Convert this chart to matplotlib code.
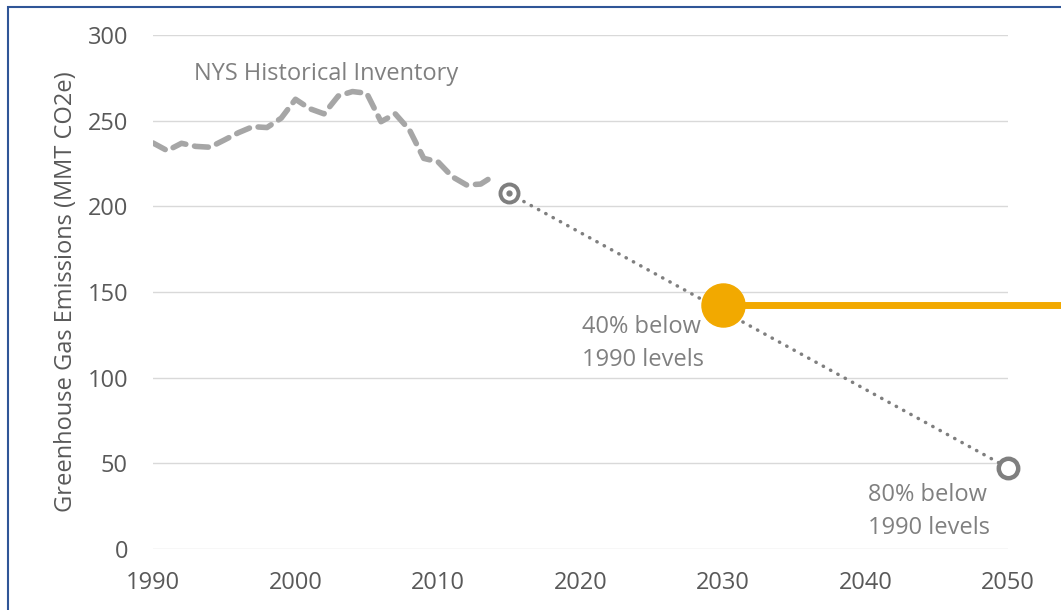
import numpy as np
import matplotlib.pyplot as plt
from matplotlib.patches import Rectangle

plt.rcParams['font.family'] = ['Open Sans', 'DejaVu Sans']

# historical inventory (MMT CO2e)
hist_years = list(range(1990, 2015))
hist_vals = [237, 232.5, 236.8, 235, 234.5, 238.7, 243, 246.5, 246, 251.5,
             262.5, 257, 254, 264.4, 267, 266, 249.4, 254, 244.6, 228,
             226, 217.3, 212.5, 213, 218.3]

# target path
target_years = [2015, 2050]
target_vals = [207.5, 47.4]
goal_year = 2030
goal_val = 142.4

fig = plt.figure(figsize=(10.61, 6.10), dpi=100)
ax = fig.add_axes([0.1442, 0.1, 0.8058, 0.8426])

grey_txt = '#595959'
ax.set_xlim(1990, 2050)
ax.set_ylim(0, 300)
ax.set_xticks(range(1990, 2051, 10))
ax.set_yticks(range(0, 301, 50))
ax.tick_params(length=0, labelsize=17, labelcolor=grey_txt)
ax.tick_params(axis='y', pad=18)
ax.tick_params(axis='x', pad=16)
for s in ax.spines.values():
    s.set_visible(False)
ax.grid(axis='y', color='#d9d9d9', lw=1)
ax.set_axisbelow(True)
ax.set_ylabel('Greenhouse Gas Emissions (MMT CO2e)', fontsize=17, color=grey_txt, labelpad=7)

ax.plot(hist_years, hist_vals, color='#a6a6a6', lw=4, dashes=(2.5, 1.6), dash_capstyle='round')
ax.plot(target_years, target_vals, color='#7f7f7f', lw=2.5, linestyle=(0, (0.1, 2.3)),
        dash_capstyle='round', clip_on=False)

ax.plot(target_years[0], target_vals[0], 'o', ms=13, mfc='white', mec='#7f7f7f', mew=2.8, zorder=5)
ax.plot(target_years[0], target_vals[0], 'o', ms=3.5, color='#7f7f7f', zorder=6)
ax.plot(target_years[1], target_vals[1], 'o', ms=14, mfc='white', mec='#7f7f7f', mew=3.2, zorder=5, clip_on=False)

ax.plot([goal_year, 2054], [goal_val, goal_val], color='#f2a900', lw=5, clip_on=False, zorder=6)
ax.plot(goal_year, goal_val, 'o', ms=31, color='#f2a900', zorder=7)

ax.text(1992.9, 277, 'NYS Historical Inventory', fontsize=17, color='#808080', va='center')
ax.text(2020.1, 120, '40% below\n1990 levels', fontsize=17, color='#808080', va='center', linespacing=1.5)
ax.text(2040.2, 22, '80% below\n1990 levels', fontsize=17, color='#808080', va='center', linespacing=1.5)

fig.patches.append(Rectangle((8 / 1061, -0.1), 1.2, 1 - 7 / 610 + 0.1, transform=fig.transFigure,
                             fill=False, ec='#2f5597', lw=1.5))

fig.savefig('out.png', dpi=100)
